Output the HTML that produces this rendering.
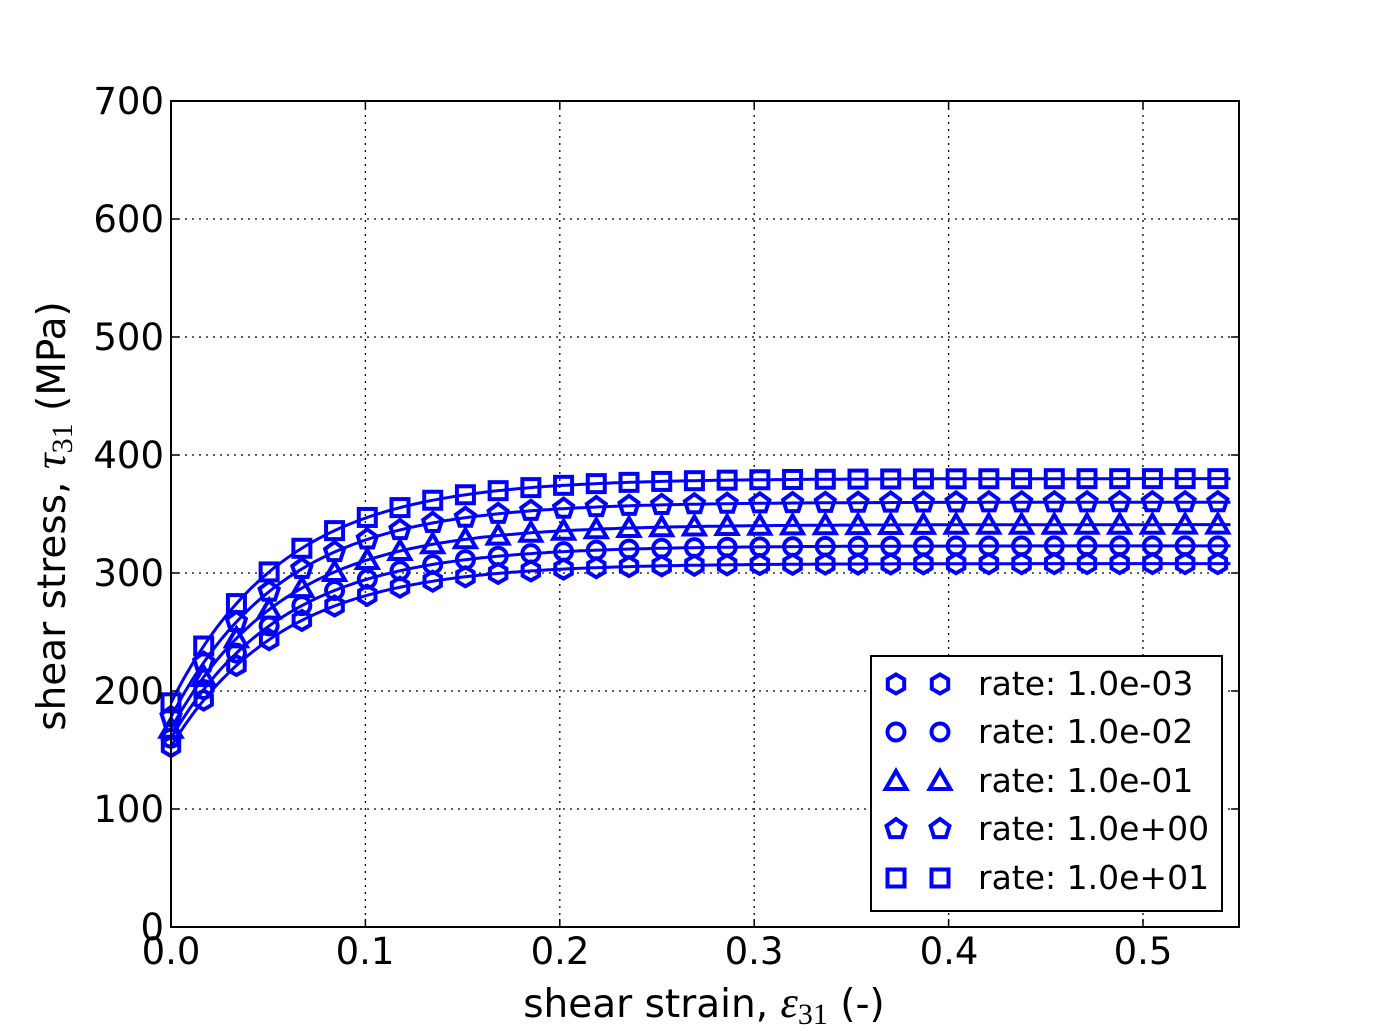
<!DOCTYPE html>
<html><head><meta charset="utf-8"><style>
html,body{margin:0;padding:0;background:#fff;}
svg{display:block;font-family:"DejaVu Sans","Liberation Sans",sans-serif;}
</style></head><body>
<svg id="s" width="1375" height="1032" xmlns="http://www.w3.org/2000/svg">
<rect width="1375" height="1032" fill="#fff"/>
<g id="grid" stroke="#000" stroke-width="1.3" stroke-dasharray="2,5"></g>
<g id="data"></g>
<rect x="171" y="101" width="1068" height="826" fill="none" stroke="#000" stroke-width="2"/>
<g id="ticks" stroke="#000" stroke-width="1.5"></g>
<g font-size="37" fill="#000" text-anchor="end">
<text x="164" y="940">0</text>
<text x="164" y="822">100</text>
<text x="164" y="704">200</text>
<text x="164" y="586">300</text>
<text x="164" y="468">400</text>
<text x="164" y="350">500</text>
<text x="164" y="232">600</text>
<text x="164" y="114">700</text>
</g>
<g font-size="37" fill="#000" text-anchor="middle">
<text x="171" y="964">0.0</text>
<text x="365" y="964">0.1</text>
<text x="560" y="964">0.2</text>
<text x="754" y="964">0.3</text>
<text x="949" y="964">0.4</text>
<text x="1143" y="964">0.5</text>
</g>
<g font-size="39" fill="#000" text-anchor="middle">
<text x="704" y="1017">shear strain, <tspan font-family="Liberation Serif,serif" font-style="italic" font-size="44">ε</tspan><tspan font-size="30" dy="7" font-family="Liberation Serif,serif">31</tspan><tspan dy="-7"> (-)</tspan></text>
<text transform="translate(65,516) rotate(-90)">shear stress, <tspan font-family="Liberation Serif,serif" font-style="italic" font-size="44">τ</tspan><tspan font-size="30" dy="7" font-family="Liberation Serif,serif">31</tspan><tspan dy="-7"> (MPa)</tspan></text>
</g>
<rect x="871" y="656" width="351" height="255" fill="#fff" stroke="#000" stroke-width="2"/>
<g id="leg"></g>
<g font-size="33" fill="#000">
<text x="978" y="695">rate: 1.0e-03</text>
<text x="978" y="743">rate: 1.0e-02</text>
<text x="978" y="792">rate: 1.0e-01</text>
<text x="978" y="840">rate: 1.0e+00</text>
<text x="978" y="889">rate: 1.0e+01</text>
</g>
</svg>
<script>
const NS="http://www.w3.org/2000/svg";
function el(p,t,a){const e=document.createElementNS(NS,t);for(const k in a)e.setAttribute(k,a[k]);p.appendChild(e);return e;}
const X=v=>171+v*1944, Y=v=>927-v*1.18;
const grid=document.getElementById('grid'),ticks=document.getElementById('ticks');
for(let i=1;i<6;i++){el(grid,'line',{x1:X(i/10),x2:X(i/10),y1:101,y2:927});}
for(let i=1;i<7;i++){el(grid,'line',{x1:171,x2:1239,y1:Y(i*100),y2:Y(i*100)});}
for(let i=0;i<6;i++){const x=X(i/10);el(ticks,'line',{x1:x,x2:x,y1:927,y2:919});el(ticks,'line',{x1:x,x2:x,y1:101,y2:109});}
for(let i=0;i<8;i++){const y=Y(i*100);el(ticks,'line',{x1:171,x2:179,y1:y,y2:y});el(ticks,'line',{x1:1239,x2:1231,y1:y,y2:y});}
function marker(g,type,x,y){
 const a={fill:'none',stroke:'#0000ff','stroke-width':4};
 if(type=='s'){el(g,'rect',Object.assign({x:x-8.5,y:y-8.5,width:17,height:17},a));return;}
 if(type=='o'){el(g,'circle',Object.assign({cx:x,cy:y,r:8.5},a));return;}
 let n,r,off;
 if(type=='h'){n=6;r=9.5;off=-Math.PI/2;}
 if(type=='p'){n=5;r=10;off=-Math.PI/2;}
 if(type=='t'){n=3;r=12;off=-Math.PI/2;y+=2;}
 let pts=[];for(let k=0;k<n;k++){const t=off+2*Math.PI*k/n;pts.push((x+r*Math.cos(t)).toFixed(1)+','+(y+r*Math.sin(t)).toFixed(1));}
 el(g,'polygon',Object.assign({points:pts.join(' ')},a));
}
const series=[['h',153,308],['o',160,323],['t',168,341],['p',178,360],['s',190,380]];
const c=0.0576, data=document.getElementById('data');
const f=(s,x)=>s[1]+(s[2]-s[1])*(1-Math.exp(-x/c));
for(const s of series){
 let d='';for(let i=0;i<=300;i++){const x=0.545*i/300;d+=(i?'L':'M')+X(x).toFixed(1)+','+Y(f(s,x)).toFixed(1);}
 el(data,'path',{d:d,fill:'none',stroke:'#0000ff','stroke-width':3});
}
for(const s of series){for(let k=0;k<=32;k++){const x=k*0.5385/32;marker(data,s[0],X(x),Y(f(s,x)));}}
const leg=document.getElementById('leg');const ly=[684,732,781,829,878];
series.forEach((s,i)=>{marker(leg,s[0],896,ly[i]);marker(leg,s[0],940,ly[i]);});
</script>
</body></html>
